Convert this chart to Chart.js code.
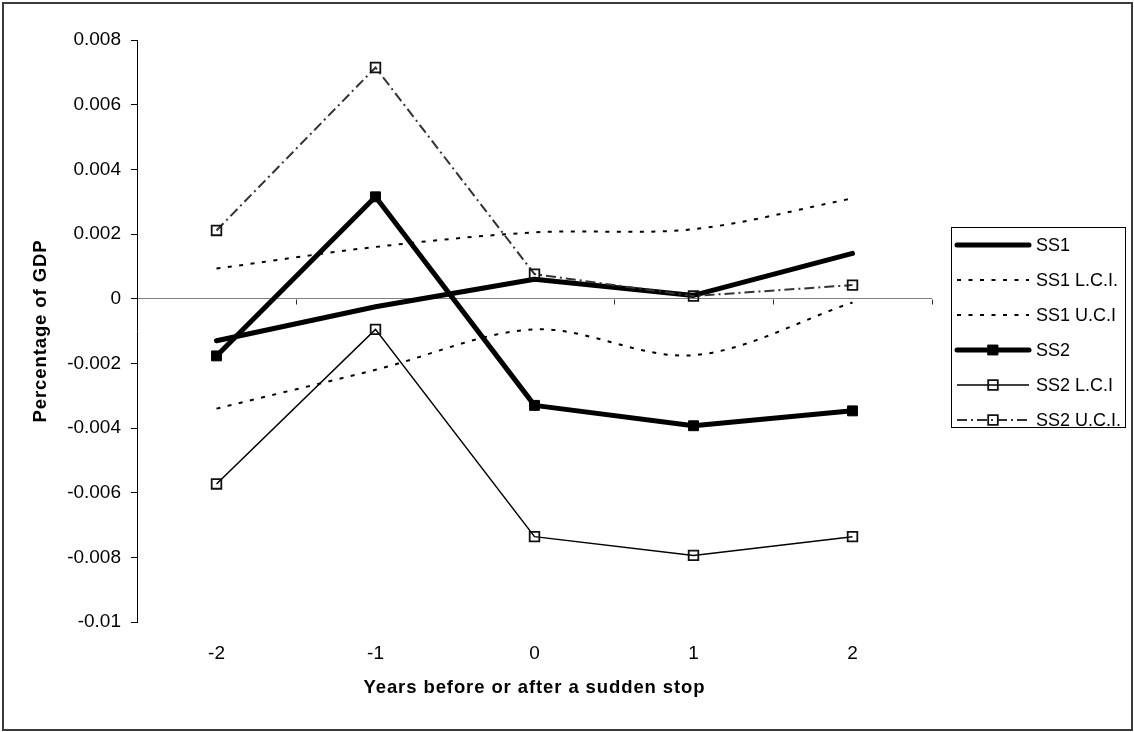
<!DOCTYPE html>
<html>
<head>
<meta charset="utf-8">
<title>Percentage of GDP around a sudden stop</title>
<script src="https://cdn.jsdelivr.net/npm/chart.js@4/dist/chart.umd.min.js"></script>
<style>
  html, body { margin: 0; padding: 0; background: #ffffff; }
  #wrap { position: relative; width: 1134px; height: 732px; }
</style>
</head>
<body>
<div id="wrap"><canvas id="chart"></canvas></div>
<script>
// Years relative to the sudden stop
const categories = ['-2', '-1', '0', '1', '2'];

// Series values (share of GDP)
const ss1    = [-0.0013, -0.00025, 0.0006, 0.0001, 0.0014];
const ss1Lci = [-0.0034, -0.0022, -0.00095, -0.00175, -0.00012];
const ss1Uci = [0.00093, 0.0016, 0.00205, 0.00215, 0.0031];
const ss2    = [-0.00177, 0.00315, -0.0033, -0.00393, -0.00347];
const ss2Lci = [-0.00573, -0.00095, -0.00736, -0.00794, -0.00736];
const ss2Uci = [0.00211, 0.00715, 0.00076, 0.00008, 0.00042];

// Vertical axis ticks
const yTickValues = [-0.01, -0.008, -0.006, -0.004, -0.002, 0, 0.002, 0.004, 0.006, 0.008];
const yTickLabels = ['-0.01', '-0.008', '-0.006', '-0.004', '-0.002', '0', '0.002', '0.004', '0.006', '0.008'];

const seriesNames = ['SS1', 'SS1 L.C.I.', 'SS1 U.C.I', 'SS2', 'SS2 L.C.I', 'SS2 U.C.I.'];
const xTitle = 'Years before or after a sudden stop';
const yTitle = 'Percentage of GDP';

const FONT = '"Liberation Sans", Arial, Helvetica, sans-serif';

const datasets = [
  { label: seriesNames[0], data: ss1, borderColor: '#000', borderWidth: 5,
    borderCapStyle: 'round', borderJoinStyle: 'round', pointRadius: 0, order: 6 },
  { label: seriesNames[1], data: ss1Lci, borderColor: '#000', borderWidth: 2,
    borderDash: [4, 7.5], tension: 0.33, pointRadius: 0, order: 5 },
  { label: seriesNames[2], data: ss1Uci, borderColor: '#000', borderWidth: 2,
    borderDash: [4, 7.5], tension: 0.33, pointRadius: 0, order: 4 },
  { label: seriesNames[3], data: ss2, borderColor: '#000', borderWidth: 5,
    borderCapStyle: 'round', borderJoinStyle: 'round',
    pointStyle: 'rect', pointRadius: 7, pointBorderWidth: 1,
    pointBackgroundColor: '#000', pointBorderColor: '#000', order: 3 },
  { label: seriesNames[4], data: ss2Lci, borderColor: '#000', borderWidth: 1.5,
    pointStyle: 'rect', pointRadius: 6.8, pointBorderWidth: 1.8,
    pointBackgroundColor: 'rgba(0,0,0,0)', pointBorderColor: '#111', order: 2 },
  { label: seriesNames[5], data: ss2Uci, borderColor: '#333', borderWidth: 2,
    borderDash: [10, 4, 2, 4],
    pointStyle: 'rect', pointRadius: 6.8, pointBorderWidth: 1.8,
    pointBackgroundColor: 'rgba(0,0,0,0)', pointBorderColor: '#111', order: 1 }
];

// Small downward tick marks on the zero line between categories
const zeroLineTicks = {
  id: 'zeroLineTicks',
  beforeDatasetsDraw(chart) {
    const { ctx, scales } = chart;
    const xs = scales.x, ys = scales.y;
    const y0 = Math.round(ys.getPixelForValue(0)) + 0.5;
    const step = xs.getPixelForValue(1) - xs.getPixelForValue(0);
    ctx.save();
    ctx.strokeStyle = '#303030';
    ctx.lineWidth = 1;
    ctx.beginPath();
    for (let i = 0; i < categories.length; i++) {
      const xb = Math.round(xs.getPixelForValue(i) + step / 2) + 0.5;
      ctx.moveTo(xb, y0);
      ctx.lineTo(xb, y0 + 5);
    }
    ctx.stroke();
    ctx.restore();
  }
};

// Axis titles, legend box and outer frame
const decorations = {
  id: 'decorations',
  afterDraw(chart) {
    const { ctx, chartArea } = chart;
    const cx = (chartArea.left + chartArea.right) / 2;
    const cy = (chartArea.top + chartArea.bottom) / 2;
    ctx.save();
    ctx.fillStyle = '#000';
    ctx.font = 'bold 18.5px ' + FONT;
    if ('letterSpacing' in ctx) ctx.letterSpacing = '0.9px';
    ctx.textAlign = 'center';
    ctx.textBaseline = 'alphabetic';
    ctx.fillText(xTitle, cx, 693);
    ctx.translate(46, cy);
    ctx.rotate(-Math.PI / 2);
    ctx.fillText(yTitle, 0, 0);
    ctx.restore();

    // legend
    const lx = chartArea.right + 19, ly = 227, lw = 174, lh = 200;
    ctx.save();
    ctx.strokeStyle = '#000';
    ctx.lineWidth = 1;
    ctx.strokeRect(lx + 0.5, ly + 0.5, lw, lh);
    chart.data.datasets.forEach((ds, i) => {
      const ry = ly + 18 + i * 35;
      const x0 = lx + 6, x1 = lx + 78, xm = (x0 + x1) / 2;
      ctx.save();
      ctx.strokeStyle = ds.borderColor;
      ctx.lineWidth = ds.borderWidth;
      ctx.lineCap = ds.borderCapStyle === 'round' ? 'round' : 'butt';
      ctx.setLineDash(ds.borderDash || []);
      ctx.beginPath();
      ctx.moveTo(x0, ry);
      ctx.lineTo(x1, ry);
      ctx.stroke();
      ctx.setLineDash([]);
      if (ds.pointRadius > 0) {
        ctx.fillStyle = ds.pointBackgroundColor;
        ctx.strokeStyle = ds.pointBorderColor;
        ctx.lineWidth = ds.pointBorderWidth;
        Chart.helpers.drawPoint(ctx, {
          pointStyle: ds.pointStyle, radius: ds.pointRadius,
          rotation: 0, borderWidth: ds.pointBorderWidth
        }, xm, ry);
      }
      ctx.restore();
      ctx.fillStyle = '#000';
      ctx.font = '18px ' + FONT;
      ctx.textAlign = 'left';
      ctx.textBaseline = 'middle';
      ctx.fillText(ds.label, lx + 85, ry + 1);
    });
    ctx.restore();

    // outer frame
    ctx.save();
    ctx.strokeStyle = '#3a3a3a';
    ctx.lineWidth = 2;
    ctx.strokeRect(3, 3, chart.width - 5, chart.height - 5);
    ctx.restore();
  }
};

new Chart(document.getElementById('chart'), {
  type: 'line',
  data: { labels: categories, datasets: datasets },
  options: {
    responsive: true,
    maintainAspectRatio: false,
    animation: false,
    devicePixelRatio: 1,
    layout: { padding: { left: 0, top: 40, right: 202, bottom: 0 } },
    plugins: { legend: { display: false }, tooltip: { enabled: false } },
    scales: {
      x: {
        type: 'category',
        offset: true,
        grid: { display: false, drawTicks: false },
        border: { display: false },
        ticks: { color: '#000', font: { family: FONT, size: 19 }, padding: 20, maxRotation: 0 },
        afterFit(scale) { scale.height = 110; }
      },
      y: {
        min: -0.01,
        max: 0.008,
        afterBuildTicks(scale) { scale.ticks = yTickValues.map(v => ({ value: v })); },
        ticks: {
          color: '#000',
          font: { family: FONT, size: 19 },
          padding: 10,
          callback: (value, index) => yTickLabels[index]
        },
        grid: {
          color: (c) => (c.tick && c.tick.value === 0) ? '#808080' : 'rgba(0,0,0,0)',
          tickColor: '#000',
          tickLength: 6,
          lineWidth: 1
        },
        border: { display: true, color: '#000', width: 1 },
        afterFit(scale) { scale.width = 137; }
      }
    }
  },
  plugins: [zeroLineTicks, decorations]
});
</script>
</body>
</html>
